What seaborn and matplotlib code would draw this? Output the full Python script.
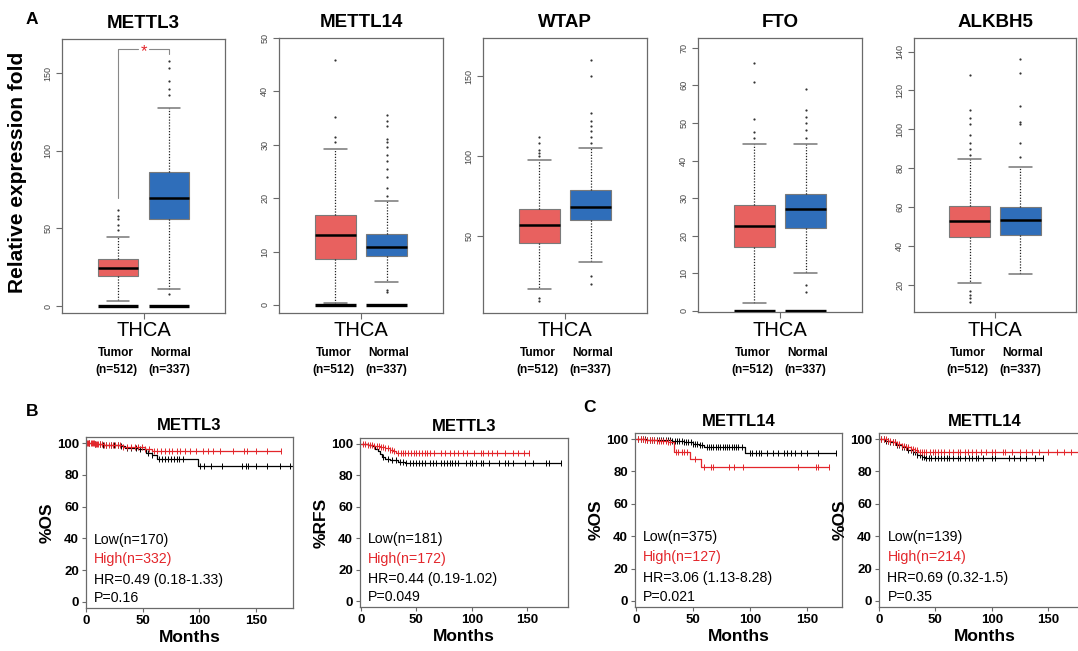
import numpy as np
import matplotlib
matplotlib.use("Agg")
import matplotlib.pyplot as plt
import seaborn as sns

# ── Panel A: box statistics ─────────────────────────────────────────
genes = ["METTL3", "METTL14", "WTAP", "FTO", "ALKBH5"]
groups = ["Tumor", "Normal"]
group_n = ["(n=512)", "(n=337)"]

tumor_q1 = [19.3, 8.6, 45.4, 17.0, 44.5]
tumor_med = [24.3, 13.1, 56.9, 22.7, 52.8]
tumor_q3 = [30.1, 16.8, 66.8, 28.2, 60.6]
tumor_lo = [3.4, 0.3, 16.7, 2.2, 20.7]
tumor_hi = [44.7, 29.2, 97.7, 44.4, 84.6]
tumor_out = [
    [49, 52, 56, 58, 62],
    [30.5, 31.5, 35.2, 45.8],
    [9, 11, 100, 102, 104, 108, 112],
    [46, 47.5, 51, 61, 66],
    [11, 13, 15, 17, 87, 90, 93, 97, 103, 106, 110, 128],
]

normal_q1 = [56.1, 9.1, 60.2, 22.1, 45.5]
normal_med = [69.4, 10.9, 68.0, 27.0, 53.3]
normal_q3 = [86.2, 13.25, 78.7, 31.1, 60.0]
normal_lo = [11.0, 4.3, 33.9, 10.2, 25.7]
normal_hi = [127.5, 19.4, 105.0, 44.4, 80.4]
normal_out = [
    [8, 136, 140, 145, 153, 158],
    [2.4, 2.8, 20.5, 22, 24, 25.5, 27, 28, 29.5, 30.5, 31, 33.5, 34.5, 35.5],
    [20, 25, 108, 112, 116, 119, 122, 127, 150, 160],
    [5, 7, 46, 48, 50, 51.5, 53.5, 59],
    [86, 93, 103, 104, 112, 129, 136],
]

ylims_a = [(-4.5, 172), (-1.5, 50), (1.7, 174), (-0.3, 72.6), (6, 147)]
yticks_a = [[0, 50, 100, 150], [0, 10, 20, 30, 40, 50], [50, 100, 150],
            [0, 10, 20, 30, 40, 50, 60, 70], [20, 40, 60, 80, 100, 120, 140]]
zero_bar = [True, True, False, True, False]

# ── Panels B/C: Kaplan-Meier step curves ────────────────────────────
km_titles = ["METTL3", "METTL3", "METTL14", "METTL14"]
km_ylabels = ["%OS", "%RFS", "%OS", "%OS"]
km_low_label = ["Low(n=170)", "Low(n=181)", "Low(n=375)", "Low(n=139)"]
km_high_label = ["High(n=332)", "High(n=172)", "High(n=127)", "High(n=214)"]
km_hr = ["HR=0.49 (0.18-1.33)", "HR=0.44 (0.19-1.02)", "HR=3.06 (1.13-8.28)", "HR=0.69 (0.32-1.5)"]
km_p = ["P=0.16", "P=0.049", "P=0.021", "P=0.35"]

low_t = [
    [0, 6, 14, 22, 30, 34, 46, 53, 58, 63, 99, 182],
    [0, 6, 10, 13, 15, 17, 19, 22, 26, 33, 40, 181],
    [0, 10, 22, 32, 42, 50, 55, 60, 96, 176],
    [0, 5, 10, 15, 20, 25, 30, 34, 38, 41, 145],
]
low_s = [
    [100, 99.5, 99, 98.5, 98, 97, 96, 94, 92.5, 90, 85.5, 85.5],
    [100, 99.3, 98.5, 97, 95.5, 93.5, 92, 90.5, 89.5, 88.8, 88, 88],
    [100, 99.6, 99.2, 98.6, 98, 97.2, 96.2, 95.3, 91.3, 91.3],
    [100, 99, 98, 96.5, 95, 93.5, 92, 90.5, 89.2, 88.2, 88.2],
]
high_t = [
    [0, 8, 16, 25, 33, 40, 52, 58, 172],
    [0, 6, 12, 17, 22, 26, 29, 32, 152],
    [0, 8, 18, 28, 33, 47, 57, 170],
    [0, 8, 12, 16, 20, 24, 28, 32, 35, 190],
]
high_s = [
    [100, 99.5, 99, 98.5, 97.8, 97.3, 96.5, 94.8, 94.8],
    [100, 99.4, 98.8, 98, 97.2, 96.3, 95.5, 94.4, 94.4],
    [100, 99.5, 98.9, 98.2, 92, 88, 83, 83],
    [100, 99, 98, 97, 96, 95, 94, 93, 92, 92],
]
low_cens = [
    [3, 8, 12, 15, 18, 22, 25, 28, 31, 36, 40, 44, 48, 55, 58, 64, 67, 70, 72, 75, 78, 80,
     82, 86, 101, 104, 110, 120, 138, 141, 143, 150, 160, 171, 180],
    [20, 24, 28, 32, 35, 38, 41, 44, 47, 50, 52, 55, 58, 62, 65, 68, 72, 75, 78, 80, 82, 85,
     88, 95, 98, 100, 104, 108, 110, 116, 125, 130, 133, 137, 148, 155, 167, 170, 181],
    [2, 4, 6, 8, 10, 12, 14, 16, 18, 20, 22, 24, 26, 28, 30, 32, 34, 36, 38, 40, 42, 44, 46,
     48, 50, 52, 54, 56, 58, 62, 64, 66, 68, 70, 72, 74, 76, 78, 80, 82, 84, 86, 88, 90, 93,
     100, 102, 105, 108, 110, 115, 120, 125, 130, 133, 136, 140, 145, 150, 160, 176],
    [2, 4, 6, 8, 10, 12, 14, 16, 18, 20, 22, 24, 26, 28, 30, 32, 34, 36, 38, 40, 42, 44, 46,
     50, 52, 55, 58, 60, 62, 66, 70, 72, 76, 80, 82, 86, 88, 92, 100, 103, 115, 120, 125,
     130, 138, 145],
]
high_cens = [
    [1, 2, 3, 4, 5, 6, 7, 8, 9, 10, 11, 12, 14, 16, 18, 20, 22, 24, 26, 28, 30, 33, 36, 40,
     43, 46, 49, 52, 56, 60, 63, 66, 70, 73, 76, 80, 83, 87, 92, 97, 103, 108, 112, 118, 130,
     139, 142, 150, 160, 172],
    [2, 4, 6, 8, 10, 12, 14, 16, 18, 20, 22, 24, 26, 28, 30, 33, 36, 38, 40, 42, 45, 48, 50,
     52, 55, 58, 60, 62, 66, 72, 76, 80, 84, 88, 92, 96, 102, 108, 110, 115, 118, 123, 130,
     137, 142, 147, 152],
    [2, 4, 6, 8, 10, 12, 14, 16, 18, 20, 22, 24, 26, 28, 30, 35, 37, 40, 42, 45, 52, 60, 66,
     68, 82, 86, 94, 142, 158, 160, 170],
    [2, 4, 6, 8, 10, 12, 14, 16, 18, 20, 22, 24, 26, 28, 30, 32, 34, 36, 38, 40, 42, 45, 48,
     50, 52, 55, 58, 62, 66, 70, 72, 76, 79, 82, 86, 90, 95, 100, 103, 110, 112, 118, 125,
     130, 136, 142, 150, 158, 164, 170, 178],
]

# ── Layout (pixel rects: left, top, right, bottom) ──────────────────
W, H = 1078, 651
BOX_RECTS = [(62, 39, 225, 313), (279, 38, 443, 313), (483, 38, 647, 313),
             (698, 38, 862, 312), (914, 38, 1076, 312)]
KM_RECTS = [(86, 437, 293, 608), (360, 438, 568, 607), (635, 433, 842, 607), (879, 433, 1090, 607)]
KM_XLIM = [(0, 182.6), (-0.9, 186.9), (-0.9, 181), (0, 187)]

RED_BOX = "#E8615F"
BLUE_BOX = "#2F6EBA"
RED = "#E3262B"
FRAME = "#6a6a6a"

sns.set_style("white")
plt.rcParams["font.family"] = ["Liberation Sans", "DejaVu Sans"]
plt.rcParams["text.color"] = "black"
plt.rcParams["axes.labelcolor"] = "black"
plt.rcParams["xtick.labelcolor"] = "black"
plt.rcParams["ytick.labelcolor"] = "black"

fig = plt.figure(figsize=(W / 100, H / 100), dpi=100)


def add_ax(l, t, r, b):
    return fig.add_axes([l / W, 1 - b / H, (r - l) / W, (b - t) / H])


def ftext(x, y, s, **kw):
    fig.text(x / W, 1 - y / H, s, **kw)


XLIM_A = (-0.1, 3.1)

for i, gene in enumerate(genes):
    l, t, r, b = BOX_RECTS[i]
    ax = add_ax(l, t, r, b)
    stats = [
        dict(q1=tumor_q1[i], med=tumor_med[i], q3=tumor_q3[i], whislo=tumor_lo[i],
             whishi=tumor_hi[i], fliers=tumor_out[i]),
        dict(q1=normal_q1[i], med=normal_med[i], q3=normal_q3[i], whislo=normal_lo[i],
             whishi=normal_hi[i], fliers=normal_out[i]),
    ]
    art = ax.bxp(stats, positions=[1, 2], widths=0.8, capwidths=0.45, patch_artist=True,
                 boxprops=dict(linewidth=0.8, edgecolor="#7a7a7a"),
                 medianprops=dict(color="black", linewidth=1.8),
                 whiskerprops=dict(color="#222222", linewidth=0.9, linestyle=(0, (1, 1.3))),
                 capprops=dict(color="#777777", linewidth=1.1),
                 flierprops=dict(marker="o", markersize=1.6, markerfacecolor="#333333",
                                 markeredgecolor="none"))
    for patch, col in zip(art["boxes"], [RED_BOX, BLUE_BOX]):
        patch.set_facecolor(col)
    if zero_bar[i]:
        ax.hlines([0, 0], [0.6, 1.6], [1.4, 2.4], color="black", linewidth=2.4, zorder=3)

    ax.set_xlim(*XLIM_A)
    ax.set_ylim(*ylims_a[i])
    ax.set_yticks(yticks_a[i])
    ax.set_yticklabels([str(v) for v in yticks_a[i]], rotation=90, va="center", ha="right")
    ax.tick_params(axis="y", direction="out", length=4, width=0.8, color=FRAME,
                   labelcolor="#444444", labelsize=6.5, pad=3, left=True)
    ax.set_xticks([1.5])
    ax.set_xticklabels([""])
    ax.tick_params(axis="x", direction="out", length=4, width=0.8, color=FRAME, bottom=True)
    for sp in ax.spines.values():
        sp.set_visible(True)
        sp.set_color(FRAME)
        sp.set_linewidth(0.9)
    ax.set_title(gene, fontsize=13.5, fontweight="bold", pad=8)

    # group labels under the axis
    span = XLIM_A[1] - XLIM_A[0]
    cx = [l + (p - XLIM_A[0]) / span * (r - l) for p in (1, 2)]
    ftext((l + r) / 2, 330, "THCA", fontsize=14.5, ha="center", va="center")
    for k in range(2):
        ftext(cx[k] - 2 + 4 * k, 353, groups[k], fontsize=8.6, fontweight="bold",
              ha="center", va="center")
        ftext(cx[k] - 2 + 2 * k, 370, group_n[k], fontsize=8.6, fontweight="bold",
              ha="center", va="center")

    if i == 0:
        ax.plot([1, 1, 1.4], [69.6, 165.5, 165.5], color="#888888", linewidth=0.8)
        ax.plot([1.6, 2, 2], [165.5, 165.5, 162.5], color="#888888", linewidth=0.8)
        ax.text(1.5, 164, "*", color=RED, fontsize=12, ha="center", va="center")

ftext(18, 172, "Relative expression fold", fontsize=15, fontweight="bold",
      rotation=90, ha="center", va="center")
ftext(32, 19, "A", fontsize=12.5, fontweight="bold", ha="center", va="center")
ftext(32, 411, "B", fontsize=12.5, fontweight="bold", ha="center", va="center")
ftext(590, 408, "C", fontsize=12.5, fontweight="bold", ha="center", va="center")

# ── Kaplan-Meier panels ─────────────────────────────────────────────
for j in range(4):
    ax = add_ax(*KM_RECTS[j])
    for tt, ss, cens, col in [(low_t[j], low_s[j], low_cens[j], "black"),
                              (high_t[j], high_s[j], high_cens[j], RED)]:
        sns.lineplot(x=tt, y=ss, drawstyle="steps-post", color=col, linewidth=0.9,
                     estimator=None, ax=ax)
        tt_arr = np.asarray(tt)
        ss_arr = np.asarray(ss)
        cens_arr = np.asarray(cens)
        idx = np.searchsorted(tt_arr, cens_arr, side="right") - 1
        ax.plot(cens_arr, ss_arr[idx], linestyle="none", marker="|", markersize=4,
                markeredgewidth=0.7, color=col)

    ax.set_xlim(*KM_XLIM[j])
    ax.set_ylim(-3.8, 103.8)
    ax.set_xticks([0, 50, 100, 150])
    ax.set_yticks([0, 20, 40, 60, 80, 100])
    ax.tick_params(direction="out", length=3, width=0.8, color=FRAME, labelsize=9.5,
                   pad=2, left=True, bottom=True)
    for lab in ax.get_xticklabels() + ax.get_yticklabels():
        lab.set_fontweight("bold")
    for sp in ax.spines.values():
        sp.set_visible(True)
        sp.set_color(FRAME)
        sp.set_linewidth(0.9)
    ax.set_xlabel("Months", fontsize=12.5, fontweight="bold", labelpad=2)
    ax.set_ylabel(km_ylabels[j], fontsize=12.5, fontweight="bold", labelpad=2)
    ax.set_title(km_titles[j], fontsize=12, fontweight="bold", pad=5)

    for yy, s, col in [(0.40, km_low_label[j], "black"), (0.285, km_high_label[j], RED),
                       (0.165, km_hr[j], "black"), (0.06, km_p[j], "black")]:
        ax.text(0.04, yy, s, transform=ax.transAxes, fontsize=10.2, color=col,
                ha="left", va="center")

fig.savefig("out.png", dpi=100)
